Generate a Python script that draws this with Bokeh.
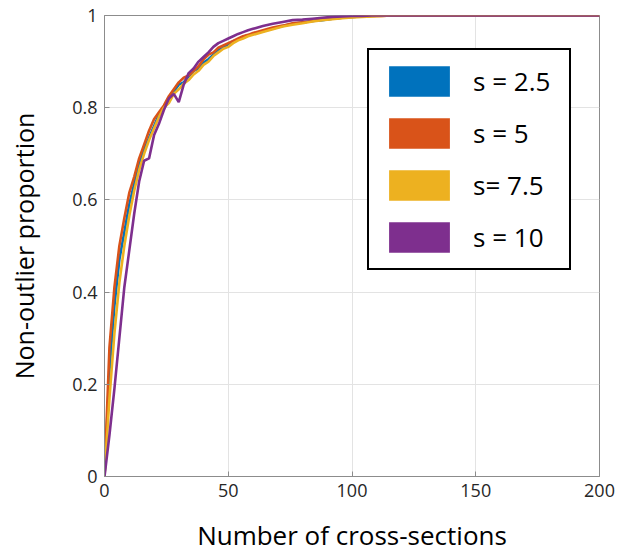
from bokeh.plotting import figure
from bokeh.models import Legend, LegendItem, CustomJSTickFormatter, FixedTicker, Range1d
from bokeh.embed import file_html
from bokeh.resources import INLINE

x_vals = [0, 2, 4, 6, 8, 10, 12, 14, 16, 18, 20, 22, 24, 26, 28, 30, 32, 34, 36, 38, 40,
          42, 44, 46, 48, 50, 52, 54, 56, 58, 60, 64, 68, 72, 76, 80, 84, 88, 92, 96, 100,
          104, 108, 112, 116, 120, 200]

s_2_5 = [0, 0.23, 0.37, 0.47, 0.53, 0.59, 0.635, 0.68, 0.71, 0.735, 0.76, 0.785, 0.80, 0.815,
         0.835, 0.85, 0.855, 0.868, 0.88, 0.885, 0.898, 0.905, 0.915, 0.925, 0.93, 0.938,
         0.944, 0.948, 0.954, 0.957, 0.96, 0.966, 0.972, 0.977, 0.982, 0.985, 0.988, 0.99,
         0.993, 0.995, 0.997, 0.998, 0.999, 1.0, 1.0, 1.0, 1.0]

s_5 = [0, 0.28, 0.41, 0.50, 0.56, 0.615, 0.65, 0.69, 0.72, 0.75, 0.775, 0.79, 0.805, 0.825,
       0.84, 0.855, 0.865, 0.87, 0.88, 0.89, 0.905, 0.915, 0.92, 0.93, 0.935, 0.94, 0.945,
       0.95, 0.955, 0.958, 0.962, 0.968, 0.974, 0.978, 0.983, 0.985, 0.988, 0.991, 0.993,
       0.995, 0.997, 0.998, 0.999, 0.999, 1.0, 1.0, 1.0]

s_7_5 = [0, 0.17, 0.31, 0.42, 0.50, 0.565, 0.62, 0.665, 0.70, 0.73, 0.755, 0.78, 0.80, 0.81,
         0.83, 0.84, 0.852, 0.86, 0.872, 0.88, 0.893, 0.90, 0.912, 0.92, 0.928, 0.932, 0.94,
         0.946, 0.95, 0.955, 0.958, 0.964, 0.97, 0.976, 0.98, 0.983, 0.987, 0.99, 0.992,
         0.994, 0.996, 0.997, 0.998, 0.999, 1.0, 1.0, 1.0]

s_10 = [0, 0.09, 0.19, 0.30, 0.41, 0.49, 0.57, 0.64, 0.685, 0.69, 0.74, 0.765, 0.795, 0.82,
        0.83, 0.812, 0.85, 0.875, 0.885, 0.90, 0.91, 0.92, 0.932, 0.94, 0.945, 0.95,
        0.955, 0.96, 0.964, 0.968, 0.971, 0.977, 0.982, 0.986, 0.99, 0.991, 0.993, 0.995,
        0.997, 0.998, 0.999, 0.999, 1.0, 1.0, 1.0, 1.0, 1.0]

series_labels = ["s = 2.5", "s = 5", "s= 7.5", "s = 10"]
series_colors = ["#0072BD", "#D95319", "#EDB120", "#7E2F8E"]
series_values = [s_2_5, s_5, s_7_5, s_10]

x_ticks = [0, 50, 100, 150, 200]
y_ticks = [0, 0.2, 0.4, 0.6, 0.8, 1.0]

FONT = "Open Sans"
AXIS_GRAY = "#8c8c8c"
NAN = float("nan")

p = figure(width=618, height=555, output_backend="svg", toolbar_location=None,
           x_range=Range1d(0, 200), y_range=Range1d(0, 1),
           min_border_left=104, min_border_right=19, min_border_top=15, min_border_bottom=79)

p.background_fill_color = "white"
p.border_fill_color = "white"
p.outline_line_color = AXIS_GRAY
p.outline_line_width = 1

for vals, col in zip(series_values, series_colors):
    p.line(x_vals, vals, line_color=col, line_width=2.6)

# legend with colour patches (renderers hold no drawable data)
items = []
for lab, col in zip(series_labels, series_colors):
    r = p.quad(left=[NAN], right=[NAN], top=[NAN], bottom=[NAN],
               fill_color=col, line_color=None)
    items.append(LegendItem(label=lab, renderers=[r]))

legend = Legend(items=items, location=(263, 206))
legend.glyph_width = 76
legend.glyph_height = 38
legend.spacing = 14
legend.padding = 12
legend.label_standoff = 16
legend.label_width = 84
legend.label_text_font = FONT
legend.label_text_font_size = "26px"
legend.label_text_color = "black"
legend.border_line_color = "black"
legend.border_line_width = 2
legend.border_line_alpha = 1
legend.background_fill_alpha = 1
legend.background_fill_color = "white"
p.add_layout(legend, "center")

# axes
for ax in (p.xaxis[0], p.yaxis[0]):
    ax.axis_line_color = AXIS_GRAY
    ax.major_tick_line_color = AXIS_GRAY
    ax.major_tick_in = 5
    ax.major_tick_out = 0
    ax.minor_tick_line_color = None
    ax.major_label_text_font = FONT
    ax.major_label_text_font_size = "18px"
    ax.major_label_text_color = "#262626"
    ax.axis_label_text_font = FONT
    ax.axis_label_text_font_style = "normal"
    ax.axis_label_text_color = "black"

p.xaxis[0].axis_label_text_font_size = "26px"
p.yaxis[0].axis_label_text_font_size = "25px"
p.xaxis[0].ticker = FixedTicker(ticks=x_ticks)
p.yaxis[0].ticker = FixedTicker(ticks=y_ticks)
p.yaxis[0].formatter = CustomJSTickFormatter(code="return String(Math.round(tick*10)/10);")
p.xaxis[0].axis_label = "Number of cross-sections"
p.yaxis[0].axis_label = "Non-outlier proportion"
p.xaxis[0].major_label_standoff = 7
p.yaxis[0].major_label_standoff = 7
p.xaxis[0].axis_label_standoff = 17
p.yaxis[0].axis_label_standoff = 28

p.xgrid.ticker = FixedTicker(ticks=x_ticks)
p.ygrid.ticker = FixedTicker(ticks=y_ticks)
p.grid.grid_line_color = "#e3e3e3"
p.grid.grid_line_width = 1

open("out.html", "w").write(file_html(p, INLINE))
